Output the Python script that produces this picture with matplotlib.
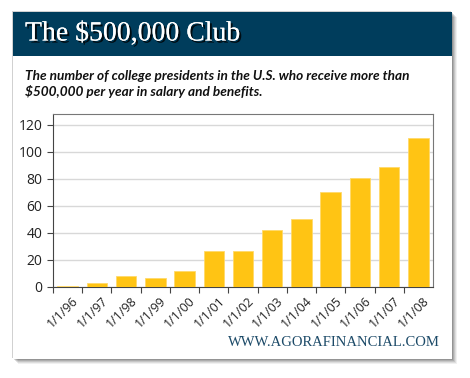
import matplotlib.pyplot as plt
from matplotlib.patches import Rectangle
import matplotlib.patheffects as pe
import numpy as np

# data
labels = ["1/1/96", "1/1/97", "1/1/98", "1/1/99", "1/1/00", "1/1/01", "1/1/02",
          "1/1/03", "1/1/04", "1/1/05", "1/1/06", "1/1/07", "1/1/08"]
presidents = [1, 3, 8, 7, 12, 27, 27, 42, 50, 70, 81, 89, 110]
yticks = [0, 20, 40, 60, 80, 100, 120]

W, H = 470, 378
fig = plt.figure(figsize=(W / 100, H / 100), dpi=100)
fig.patch.set_facecolor("white")

def box(x, y, w, h, **kw):
    # pixel box with top-left origin -> rectangle in figure coords
    r = Rectangle((x / W, 1 - (y + h) / H), w / W, h / H,
                  transform=fig.transFigure, lw=0, **kw)
    fig.patches.append(r)
    return r

# card shadow, soft towards right/bottom
for off, a in [(8, 0.06), (7, 0.08), (6, 0.10), (5, 0.12), (4, 0.14), (3, 0.16), (2, 0.18)]:
    box(13 + off - 3, 12 + off - 3, 439, 347, color="black", alpha=a, zorder=0)
box(13, 12, 439, 347, facecolor="white", edgecolor="#c8c8c8", zorder=1)
# header band
box(13, 12, 439, 44, color="#003d5c", zorder=2)

fig.text(25 / W, 1 - 34 / H, "The $500,000 Club", color="white", fontsize=20,
         family="Liberation Serif", va="center", ha="left", zorder=3,
         path_effects=[pe.withSimplePatchShadow(offset=(1.5, -1.5), shadow_rgbFace="black", alpha=0.8),
                       pe.Normal()])

fig.text(25 / W, 1 - 84 / H,
         "The number of college presidents in the U.S. who receive more than\n"
         "$500,000 per year in salary and benefits.",
         fontsize=9.8, family="Lato", weight="bold", style="italic",
         va="center", ha="left", linespacing=1.3, color="#111111", zorder=3)

fig.text(440 / W, 1 - 342 / H, "WWW.AGORAFINANCIAL.COM",
         fontsize=10.5, family="Liberation Serif", color="#1c4a68", ha="right", va="center", zorder=3)

ax = fig.add_axes([53 / W, 1 - 287 / H, 380 / W, 173 / H], zorder=4)
ax.set_facecolor("white")
x = np.arange(len(labels))
ax.bar(x, presidents, width=0.7, color="#ffc414", edgecolor="#ffd96a", linewidth=0.6, zorder=3)
ax.set_xlim(-0.5, len(labels) - 0.5)
ax.set_ylim(0, 128)
ax.set_yticks(yticks)
ax.yaxis.grid(True, color="#d8d8d8", lw=1, zorder=0)
ax.set_xticks(x - 0.5, minor=False)
ax.set_xticklabels([])
ax.set_xticks(x + 0.15, minor=True)
ax.set_xticklabels(labels, minor=True, rotation=45, ha="right", rotation_mode="anchor",
                   fontsize=9, family="Open Sans", color="#222222")
ax.tick_params(axis="x", which="minor", length=0, pad=5)
ax.tick_params(axis="x", which="major", length=4, color="#444444")
ax.tick_params(axis="y", length=4, color="#444444", labelsize=10, labelcolor="#222222")
for t in ax.get_yticklabels():
    t.set_family("Open Sans")
for s in ["top", "right"]:
    ax.spines[s].set_color("#777777")
for s in ["left", "bottom"]:
    ax.spines[s].set_color("#444444")

fig.savefig("out.png", dpi=100, facecolor="white")
